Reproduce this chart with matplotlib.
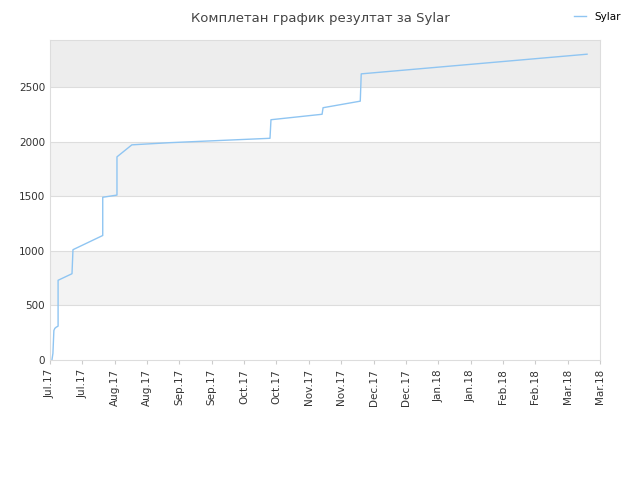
import matplotlib
matplotlib.use("Agg")
import matplotlib.pyplot as plt

# x in tick units (0 = first Jul.17 tick, 17 = last Mar.18 tick)
xs = [0.06, 0.09, 0.12, 0.15, 0.19, 0.25, 0.25, 0.68, 0.71, 0.71, 1.63, 1.63, 2.07, 2.07,
      2.53, 3.71, 6.80, 6.83, 8.41, 8.44, 9.59, 9.62, 16.60]
ys = [0, 60, 270, 290, 300, 310, 730, 790, 1010, 1010, 1140, 1490, 1510, 1860,
      1970, 1990, 2030, 2200, 2250, 2310, 2370, 2620, 2800]
tick_labels = ["Jul.17", "Jul.17", "Aug.17", "Aug.17", "Sep.17", "Sep.17", "Oct.17", "Oct.17",
               "Nov.17", "Nov.17", "Dec.17", "Dec.17", "Jan.18", "Jan.18", "Feb.18", "Feb.18",
               "Mar.18", "Mar.18"]

fig = plt.figure(figsize=(6.4, 4.8), dpi=100)
ax = fig.add_axes([50/640, 120/480, 550/640, 320/480])
ymax = 2930
ax.set_xlim(0, 17)
ax.set_ylim(0, ymax)
bands = [(0, 500, "white"), (500, 1000, "#f3f3f3"), (1000, 1500, "white"),
         (1500, 2000, "#f3f3f3"), (2000, 2500, "white"), (2500, ymax, "#ededed")]
for lo, hi, c in bands:
    ax.axhspan(lo, hi, color=c, zorder=0, lw=0)
for v in range(500, 3000, 500):
    ax.axhline(v, color="#dddddd", lw=0.8, zorder=1)
ax.plot(xs, ys, color="#8fc5f2", lw=1.0, label="Sylar", zorder=3)
ax.set_xticks(range(18))
ax.set_xticklabels(tick_labels, rotation=90, fontsize=7.5, color="#333333")
ax.set_yticks(range(0, 3000, 500))
ax.tick_params(axis="y", labelsize=7.5, colors="#333333", length=0)
ax.tick_params(axis="x", length=3, color="#cccccc")
for s in ax.spines.values():
    s.set_color("#dddddd")
fig.text(0.5, 0.975, "Комплетан график резултат за Sylar", ha="center", va="top",
         fontsize=9.5, color="#444444")
fig.legend(loc="upper right", bbox_to_anchor=(0.985, 0.995), frameon=False, fontsize=7.5,
           handlelength=1.2)
fig.savefig("out.png", dpi=100)
